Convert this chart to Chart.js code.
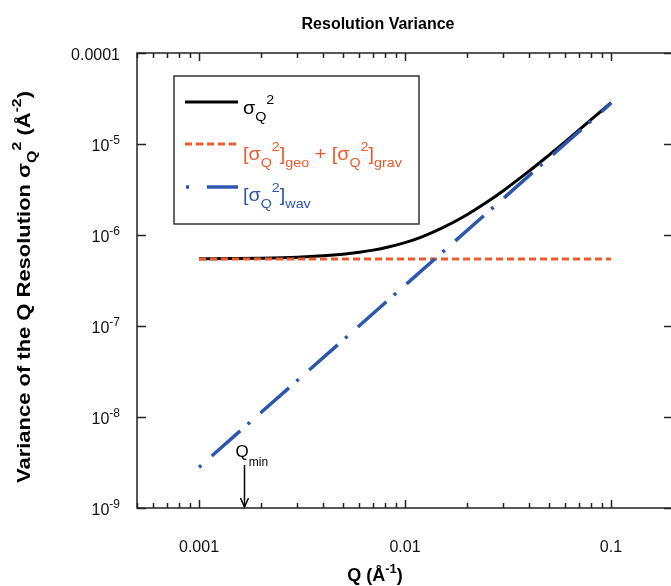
<!DOCTYPE html>
<html>
<head>
<meta charset="utf-8">
<script src="https://cdn.jsdelivr.net/npm/chart.js@4.4.0/dist/chart.umd.min.js"></script>
<style>
html, body { margin: 0; padding: 0; background: #fff; overflow: hidden; }
#wrap { width: 671px; height: 586px; overflow: hidden; }
</style>
</head>
<body>
<div id="wrap"><canvas id="chart1" width="680" height="586"></canvas></div>
<script>
// values (Q in 1/A, variance in 1/A^2)
var qTotal = [0.001, 0.0015, 0.002, 0.003, 0.004, 0.005, 0.006, 0.007, 0.008, 0.01, 0.012,
  0.015, 0.02, 0.025, 0.03, 0.04, 0.05, 0.06, 0.07, 0.08, 0.09, 0.1];
var varTotal = [5.48e-7, 5.51e-7, 5.56e-7, 5.70e-7, 5.90e-7, 6.15e-7, 6.46e-7, 6.82e-7, 7.24e-7,
  8.25e-7, 9.48e-7, 1.18e-6, 1.67e-6, 2.30e-6, 3.07e-6, 5.03e-6, 7.55e-6, 1.06e-5, 1.43e-5,
  1.85e-5, 2.32e-5, 2.85e-5];
var qGeoGrav = [0.001, 0.1];
var varGeoGrav = [5.45e-7, 5.45e-7];
var qWav = [0.001, 0.01, 0.1];
var varWav = [2.8e-9, 2.8e-7, 2.8e-5];

var xTicks = [0.001, 0.01, 0.1];
var xTickLabels = ['0.001', '0.01', '0.1'];
var yTicks = [1e-4, 1e-5, 1e-6, 1e-7, 1e-8, 1e-9];
var yTickLabels = [['0.0001', ''], ['10', '-5'], ['10', '-6'], ['10', '-7'], ['10', '-8'], ['10', '-9']];
var qMin = 0.00166;

var FONT = '"Liberation Sans", Arial, sans-serif';
var ORANGE = '#ef5a2b';
var BLUE = '#2d57ad';

function pts(xs, ys) {
  return xs.map(function (x, i) { return {x: x, y: ys[i]}; });
}

// draws text made of normal / sub / sup pieces
// o: {size, small, bold, align, subDy, supDy, stretch}
function drawParts(ctx, x, y, parts, o) {
  var size = o.size, small = o.small || Math.round(size * 0.7);
  var b = o.bold ? 'bold ' : '';
  var subDy = o.subDy == null ? size * 0.4 : o.subDy;
  var supDy = o.supDy == null ? -size * 0.55 : o.supDy;
  var st = o.stretch || 1;
  var w = 0;
  parts.forEach(function (p) {
    ctx.font = b + (p.s ? small : size) + 'px ' + FONT;
    p.w = ctx.measureText(p.t).width;
    w += p.w;
  });
  var cx = 0;
  if (o.align == 'center') cx = -w / 2;
  if (o.align == 'right') cx = -w;
  ctx.save();
  ctx.translate(x, y);
  ctx.scale(st, 1);
  ctx.textAlign = 'left';
  ctx.textBaseline = 'alphabetic';
  parts.forEach(function (p) {
    ctx.font = b + (p.s ? small : size) + 'px ' + FONT;
    var dy = p.s == 'sub' ? subDy : (p.s == 'sup' ? supDy : 0);
    ctx.fillText(p.t, cx, dy);
    cx += p.w;
  });
  ctx.restore();
}

function line(ctx, x1, y1, x2, y2) {
  ctx.beginPath();
  ctx.moveTo(x1, y1);
  ctx.lineTo(x2, y2);
  ctx.stroke();
}

var decor = {
  id: 'decor',
  afterDraw: function (chart) {
    var ctx = chart.ctx, a = chart.chartArea;
    var sx = chart.scales.x, sy = chart.scales.y;
    ctx.save();
    ctx.strokeStyle = '#222';
    ctx.fillStyle = '#111';
    ctx.lineWidth = 1.5;
    ctx.strokeRect(a.left, a.top, a.right - a.left, a.bottom - a.top);

    // y ticks, inside on both sides
    yTicks.forEach(function (v, i) {
      var py = Math.round(sy.getPixelForValue(v)) + 0.5;
      line(ctx, a.left, py, a.left + 9, py);
      line(ctx, a.right - 9, py, a.right, py);
      var lab = yTickLabels[i];
      drawParts(ctx, 120, py + 6, [{t: lab[0]}, {t: lab[1], s: 'sup'}],
        {size: 16, small: 12, align: 'right', supDy: -7});
    });

    // x ticks major + minor
    [0.0001, 0.001, 0.01, 0.1].forEach(function (d) {
      for (var k = 1; k <= 9; k++) {
        var v = k * d;
        if (v < sx.min || v > sx.max) continue;
        var px = Math.round(sx.getPixelForValue(v)) + 0.5;
        var len = k == 1 ? 8 : 5;
        line(ctx, px, a.bottom, px, a.bottom - len);
        line(ctx, px, a.top, px, a.top + len);
      }
    });
    ctx.textAlign = 'center';
    ctx.font = '16px ' + FONT;
    xTicks.forEach(function (v, i) {
      ctx.fillText(xTickLabels[i], sx.getPixelForValue(v), a.bottom + 44);
    });

    // titles
    ctx.fillStyle = '#000';
    drawParts(ctx, 378, 29, [{t: 'Resolution Variance'}], {size: 16, bold: true, align: 'center'});
    drawParts(ctx, 375, 581, [{t: 'Q (\u00c5'}, {t: '-1', s: 'sup'}, {t: ')'}],
      {size: 18, small: 13, bold: true, align: 'center', supDy: -8});
    ctx.save();
    ctx.translate(30, 287);
    ctx.rotate(-Math.PI / 2);
    drawParts(ctx, 0, 0, [{t: 'Variance of the Q Resolution \u03c3'}, {t: 'Q', s: 'sub'}, {t: '2', s: 'sup'},
      {t: ' (\u00c5'}, {t: '-2', s: 'sup'}, {t: ')'}],
      {size: 18, small: 13, bold: true, align: 'center', subDy: 6, supDy: -9, stretch: 1.22});
    ctx.restore();

    // Q min marker
    var qx = Math.round(sx.getPixelForValue(qMin)) + 0.5;
    ctx.strokeStyle = '#000';
    ctx.lineWidth = 1.5;
    line(ctx, qx, 465, qx, a.bottom - 1);
    ctx.beginPath();
    ctx.moveTo(qx - 4, a.bottom - 10);
    ctx.lineTo(qx, a.bottom - 1);
    ctx.lineTo(qx + 4, a.bottom - 10);
    ctx.stroke();
    drawParts(ctx, qx - 9, 457, [{t: 'Q'}, {t: 'min', s: 'sub'}], {size: 17, small: 12, subDy: 9});

    // legend box
    var lg = {size: 18, small: 13, subDy: 7, supDy: -9, stretch: 1.1};
    ctx.strokeStyle = '#333';
    ctx.lineWidth = 1.5;
    ctx.strokeRect(174, 76, 245, 148);
    ctx.lineCap = 'butt';
    ctx.lineWidth = 3;
    ctx.strokeStyle = '#000';
    line(ctx, 185, 102, 238, 102);
    ctx.fillStyle = '#000';
    drawParts(ctx, 243, 114, [{t: '\u03c3'}, {t: 'Q', s: 'sub'}, {t: '2', s: 'sup'}],
      {size: 18, small: 13, subDy: 7, supDy: -10, stretch: 1.1});

    ctx.strokeStyle = ORANGE;
    ctx.setLineDash([7, 4]);
    line(ctx, 185, 144, 238, 144);
    ctx.setLineDash([]);
    ctx.fillStyle = ORANGE;
    drawParts(ctx, 243, 160, [{t: '[\u03c3'}, {t: 'Q', s: 'sub'}, {t: '2', s: 'sup'}, {t: ']'}, {t: 'geo', s: 'sub'},
      {t: ' + [\u03c3'}, {t: 'Q', s: 'sub'}, {t: '2', s: 'sup'}, {t: ']'}, {t: 'grav', s: 'sub'}], lg);

    ctx.strokeStyle = BLUE;
    ctx.lineWidth = 3.5;
    line(ctx, 186, 187, 189, 187);
    line(ctx, 207, 187, 238, 187);
    ctx.fillStyle = BLUE;
    drawParts(ctx, 243, 201, [{t: '[\u03c3'}, {t: 'Q', s: 'sub'}, {t: '2', s: 'sup'}, {t: ']'}, {t: 'wav', s: 'sub'}], lg);
    ctx.restore();
  }
};

var config = {
  type: 'scatter',
  data: {
    datasets: [{
      label: 'total',
      data: pts(qTotal, varTotal),
      showLine: true,
      borderColor: '#000',
      borderWidth: 3,
      cubicInterpolationMode: 'monotone',
      pointRadius: 0,
      order: 3
    }, {
      label: 'geo + grav',
      data: pts(qGeoGrav, varGeoGrav),
      showLine: true,
      borderColor: ORANGE,
      borderWidth: 3,
      borderDash: [7, 4],
      pointRadius: 0,
      order: 2
    }, {
      label: 'wav',
      data: pts(qWav, varWav),
      showLine: true,
      borderColor: BLUE,
      borderWidth: 3.5,
      borderDash: [3, 14, 38, 10],
      borderCapStyle: 'butt',
      pointRadius: 0,
      order: 1
    }]
  },
  options: {
    responsive: false,
    animation: false,
    devicePixelRatio: 1,
    layout: {padding: {left: 137, top: 53, right: 7, bottom: 78}},
    plugins: {legend: {display: false}, tooltip: {enabled: false}},
    scales: {
      x: {type: 'logarithmic', min: 0.0005, max: 0.2, display: false},
      y: {type: 'logarithmic', min: 1e-9, max: 1e-4, display: false}
    }
  },
  plugins: [decor]
};

var myChart = new Chart(document.getElementById('chart1'), config);
</script>
</body>
</html>
